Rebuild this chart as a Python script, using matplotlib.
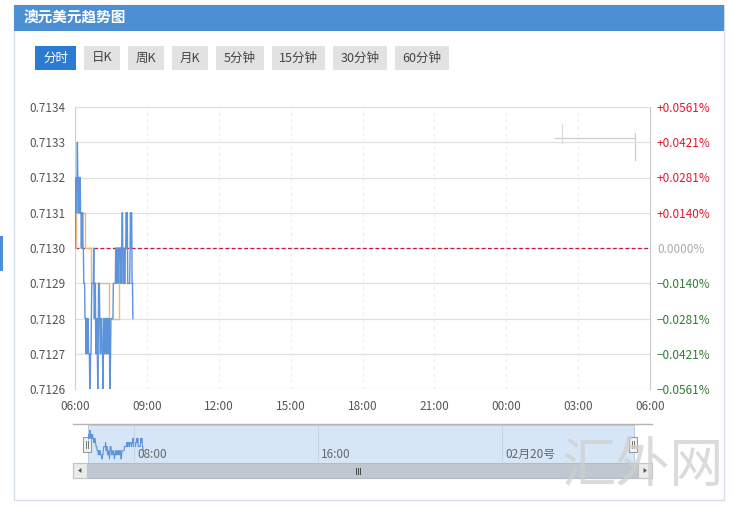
import matplotlib
matplotlib.use("Agg")
import matplotlib.pyplot as plt
from matplotlib.patches import Rectangle, Polygon

plt.rcParams['font.family'] = ['Noto Sans CJK SC', 'DejaVu Sans']

W, H = 733, 508

# minute prices from 06:00
prices = [
    0.7130, 0.7131, 0.7131, 0.7132, 0.7131, 0.7132, 0.7133, 0.7132, 0.7132, 0.7131,
    0.7132, 0.7132, 0.7131, 0.7132, 0.7131, 0.7131, 0.7130, 0.7131, 0.7130, 0.7131,
    0.7130, 0.7130, 0.7129, 0.7129, 0.7129, 0.7128, 0.7128, 0.7128, 0.7127, 0.7128,
    0.7127, 0.7128, 0.7128, 0.7128, 0.7127, 0.7127, 0.7127, 0.7126, 0.7126, 0.7127,
    0.7127, 0.7128, 0.7129, 0.7129, 0.7129, 0.7129, 0.7129, 0.7130, 0.7128, 0.7128,
    0.7129, 0.7129, 0.7127, 0.7127, 0.7128, 0.7128, 0.7127, 0.7126, 0.7127, 0.7129,
    0.7129, 0.7129, 0.7128, 0.7127, 0.7127, 0.7128, 0.7128, 0.7128, 0.7127, 0.7127,
    0.7126, 0.7127, 0.7128, 0.7128, 0.7127, 0.7127, 0.7128, 0.7128, 0.7128, 0.7127,
    0.7127, 0.7128, 0.7128, 0.7128, 0.7127, 0.7127, 0.7128, 0.7126, 0.7126, 0.7127,
    0.7128, 0.7128, 0.7128, 0.7128, 0.7128, 0.7128, 0.7129, 0.7129, 0.7129, 0.7129,
    0.7129, 0.7129, 0.7130, 0.7130, 0.7129, 0.7129, 0.7130, 0.7130, 0.7130, 0.7129,
    0.7129, 0.7130, 0.7130, 0.7130, 0.7130, 0.7129, 0.7130, 0.7130, 0.7131, 0.7131,
    0.7129, 0.7129, 0.7129, 0.7130, 0.7129, 0.7129, 0.7130, 0.7130, 0.7131, 0.7131,
    0.7130, 0.7131, 0.7129, 0.7129, 0.7129, 0.7129, 0.7129, 0.7129, 0.7130, 0.7131,
    0.7130, 0.7131, 0.7131, 0.7129, 0.7129, 0.7128,
]
minutes = list(range(len(prices)))

# average price line (step changes)
avg_minutes = [0, 2, 25, 40, 84, 110, 145]
avg_prices = [0.7130, 0.7131, 0.7130, 0.7129, 0.7128, 0.7129, 0.7129]

prev_close = 0.7130
y_ticks = [0.7126, 0.7127, 0.7128, 0.7129, 0.7130, 0.7131, 0.7132, 0.7133, 0.7134]
x_ticks = [0, 180, 360, 540, 720, 900, 1080, 1260, 1440]
x_labels = ['06:00', '09:00', '12:00', '15:00', '18:00', '21:00', '00:00', '03:00', '06:00']
nav_ticks = [120, 600, 1080]
nav_labels = ['08:00', '16:00', '02月20号']
tabs = ['分时', '日K', '周K', '月K', '5分钟', '15分钟', '30分钟', '60分钟']
tab_x = [(35, 76), (84, 120), (128, 164), (172, 208), (216, 264), (272, 325), (333, 387), (395, 449)]


def box(x0, y0, x1, y1):
    return [x0 / W, 1 - y1 / H, (x1 - x0) / W, (y1 - y0) / H]


fig = plt.figure(figsize=(W / 100, H / 100), dpi=100)
fig.patch.set_facecolor('white')

bg = fig.add_axes([0, 0, 1, 1])
bg.set_xlim(0, W)
bg.set_ylim(H, 0)
bg.axis('off')

# panel + header
bg.add_patch(Rectangle((14, 5), 710, 495, fc='white', ec='#d5dde6', lw=1))
bg.add_patch(Rectangle((14, 5), 710, 26, fc='#4c90d3', ec='none'))
bg.text(24, 18, '澳元美元趋势图', color='white', fontsize=10.5, fontweight='bold', va='center')
bg.add_patch(Rectangle((0, 236), 3, 35, fc='#4a8fd8', ec='none'))

# tabs
for i, (t, (x0, x1)) in enumerate(zip(tabs, tab_x)):
    sel = i == 0
    bg.add_patch(Rectangle((x0, 46), x1 - x0, 24, fc='#2c7bd2' if sel else '#e2e2e2', ec='none'))
    bg.text((x0 + x1) / 2, 58, t, ha='center', va='center', fontsize=9,
            color='white' if sel else '#444444')

# main chart
ax = fig.add_axes(box(75, 107, 650, 389))
ax.patch.set_alpha(0)
ax.set_xlim(0, 1440)
ax.set_ylim(y_ticks[0], y_ticks[-1])
ax.set_yticks(y_ticks)
ax.set_yticklabels(['%.4f' % v for v in y_ticks])
ax.set_xticks(x_ticks)
ax.set_xticklabels(x_labels)
ax.yaxis.grid(True, color='#e0e0e0', lw=0.9)
ax.xaxis.grid(True, color='#ededed', lw=0.8, ls=(0, (3, 3)))
ax.tick_params(length=0, labelsize=8.5, colors='#555555')
ax.tick_params(axis='y', pad=7)
ax.tick_params(axis='x', pad=8)
for s in ['top', 'bottom']:
    ax.spines[s].set_visible(False)
ax.spines['left'].set_color('#d0d0d0')
ax.spines['right'].set_color('#c8c8c8')

ax.axhline(prev_close, color='#c4163e', lw=0.9, ls=(0, (3, 2)), zorder=3)
ax.plot(avg_minutes, avg_prices, drawstyle='steps-post', color='#f0b67a', lw=1.0, zorder=4)
ax.plot(minutes, prices, color='#5c93db', lw=1.0, zorder=5)

ax2 = ax.twinx()
ax2.set_ylim(ax.get_ylim())
ax2.set_yticks(y_ticks)
pct = [(v - prev_close) / prev_close * 100 for v in y_ticks]
ax2.set_yticklabels([('+%.4f%%' % p) if p > 1e-9 else (('%.4f%%' % p).replace('-', '−') if p < -1e-9 else '0.0000%') for p in pct])
ax2.tick_params(length=0, labelsize=8.5, pad=5)
for lab, p in zip(ax2.get_yticklabels(), pct):
    lab.set_color('#e0192d' if p > 1e-9 else ('#2f7d32' if p < -1e-9 else '#aaaaaa'))
for s in ax2.spines.values():
    s.set_visible(False)

# small crosshair remnant at top right
bg.plot([555, 635], [138, 138], color='#cccccc', lw=0.9)
bg.plot([635, 635], [133, 160], color='#cccccc', lw=0.9)
bg.plot([562, 562], [124, 143], color='#dddddd', lw=0.9)

# navigator
bg.plot([73, 652], [424, 424], color='#b5b5b5', lw=1)
bg.add_patch(Rectangle((88, 424.5), 546, 38.5, fc='#d7e6f7', ec='#b3c9e0', lw=0.6))
nav = fig.add_axes(box(87.6, 424.5, 639.6, 463))
nav.patch.set_alpha(0)
nav.set_xlim(0, 1440)
nav.set_ylim(min(prices) - 0.00010, max(prices) + 0.00014)
nav.axis('off')
nav.plot(minutes, prices, color='#5c93db', lw=0.8)
for t, lab in zip(nav_ticks, nav_labels):
    nav.axvline(t, color='#c4d5e8', lw=0.8)
    nav.text(t + 10, 0.22, lab, transform=nav.get_xaxis_transform(), fontsize=8.5,
             color='#666666', va='center', ha='left')

for hx in [83, 629]:
    bg.add_patch(Rectangle((hx, 437), 8, 15, fc='#f3f3f3', ec='#9a9a9a', lw=0.8))
    bg.plot([hx + 3, hx + 3], [441, 448], color='#777777', lw=0.7)
    bg.plot([hx + 5, hx + 5], [441, 448], color='#777777', lw=0.7)

# scrollbar
bg.add_patch(Rectangle((73, 463), 579, 15, fc='#eeeeee', ec='#cccccc', lw=0.8))
bg.add_patch(Rectangle((87, 463), 551, 15, fc='#bfc8d1', ec='#b0b8c0', lw=0.6))
for bx, d in [(73, -1), (638, 1)]:
    bg.add_patch(Rectangle((bx, 463), 14, 15, fc='#ebebeb', ec='#c4c4c4', lw=0.8))
    cx = bx + 7
    bg.add_patch(Polygon([(cx + 2 * d, 470.5), (cx - 1.5 * d, 468), (cx - 1.5 * d, 473)],
                         closed=True, fc='#555555', ec='none'))
for gx in [356, 358, 360]:
    bg.plot([gx, gx], [467.5, 473.5], color='#444444', lw=0.7)

# watermark
fig.text(643 / W, 1 - 466 / H, '汇外网', fontsize=39, color='#cfcfcf', alpha=0.75,
         ha='center', va='center', zorder=20, fontweight='light')

fig.savefig('out.png', dpi=100)
